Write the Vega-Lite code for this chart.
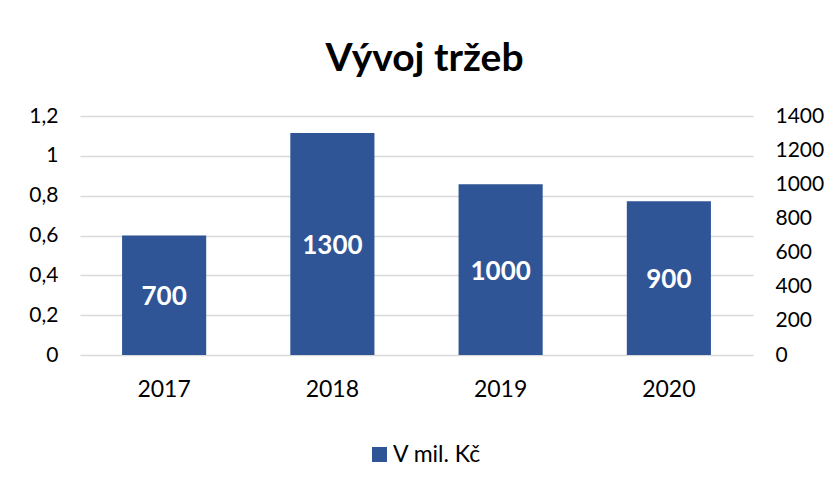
{
  "$schema": "https://vega.github.io/schema/vega-lite/v6.json",
  "width": 673,
  "height": 239,
  "autosize": {"type": "none"},
  "padding": {"left": 80, "top": 116, "right": 80, "bottom": 128},
  "background": "white",
  "title": {"text": "Vývoj tržeb", "fontSize": 39, "font": "Lato", "fontWeight": "bold", "color": "#000000", "offset": 26, "anchor": "middle", "dx": 8},
  "data": {"values": [
    {"rok": "2017", "trzby": 700},
    {"rok": "2018", "trzby": 1300},
    {"rok": "2019", "trzby": 1000},
    {"rok": "2020", "trzby": 900}
  ]},
  "layer": [
    {
      "mark": {"type": "rule", "opacity": 0, "clip": true},
      "encoding": {
        "y": {"field": "trzby", "type": "quantitative", "scale": {"domain": [0, 1.2], "nice": false},
              "axis": {"orient": "left", "title": null, "values": [0, 0.2, 0.4, 0.6, 0.8, 1, 1.2], "format": ".1~f", "labelOverlap": false, "domain": false, "ticks": false, "grid": true, "gridColor": "#D9D9D9", "gridWidth": 1.3, "labelPadding": 22, "labelAlign": "right", "labelFontSize": 21, "labelFont": "Lato", "labelColor": "#000000"}}
      }
    },
    {
      "mark": {"type": "bar", "color": "#2F5597"},
      "encoding": {
        "x": {"field": "rok", "type": "nominal", "scale": {"paddingInner": 0.5, "paddingOuter": 0.25},
              "axis": {"title": null, "labelAngle": 0, "domain": false, "ticks": false, "labelPadding": 23, "labelFontSize": 23, "labelFont": "Lato", "labelColor": "#000000"}},
        "y": {"field": "trzby", "type": "quantitative", "scale": {"domain": [0, 1400], "nice": false},
              "axis": {"orient": "right", "title": null, "values": [0, 200, 400, 600, 800, 1000, 1200, 1400], "format": "d", "labelOverlap": false, "domain": false, "ticks": false, "grid": false, "labelPadding": 22, "labelAlign": "left", "labelFontSize": 21, "labelFont": "Lato", "labelColor": "#000000"}},
        "color": {"datum": "V mil. Kč", "type": "nominal", "scale": {"range": ["#2F5597"]},
                  "legend": {"title": null, "orient": "none", "legendX": 288, "legendY": 327, "symbolType": "square", "symbolSize": 225, "labelOffset": 2, "labelFontSize": 23, "labelFont": "Lato", "labelColor": "#000000", "symbolStrokeWidth": 0}}
      }
    },
    {
      "mark": {"type": "text", "color": "white", "fontSize": 26, "fontWeight": "bold", "font": "Lato", "baseline": "middle", "dy": 2},
      "encoding": {
        "x": {"field": "rok", "type": "nominal"},
        "y": {"field": "trzby", "type": "quantitative", "scale": {"domain": [0, 2800], "nice": false}, "axis": null},
        "text": {"field": "trzby", "type": "quantitative", "format": "d"}
      }
    }
  ],
  "resolve": {"scale": {"y": "independent"}},
  "config": {
    "view": {"stroke": null},
    "locale": {"number": {"decimal": ",", "thousands": " ", "grouping": [3], "currency": ["", " Kč"]}}
  }
}
